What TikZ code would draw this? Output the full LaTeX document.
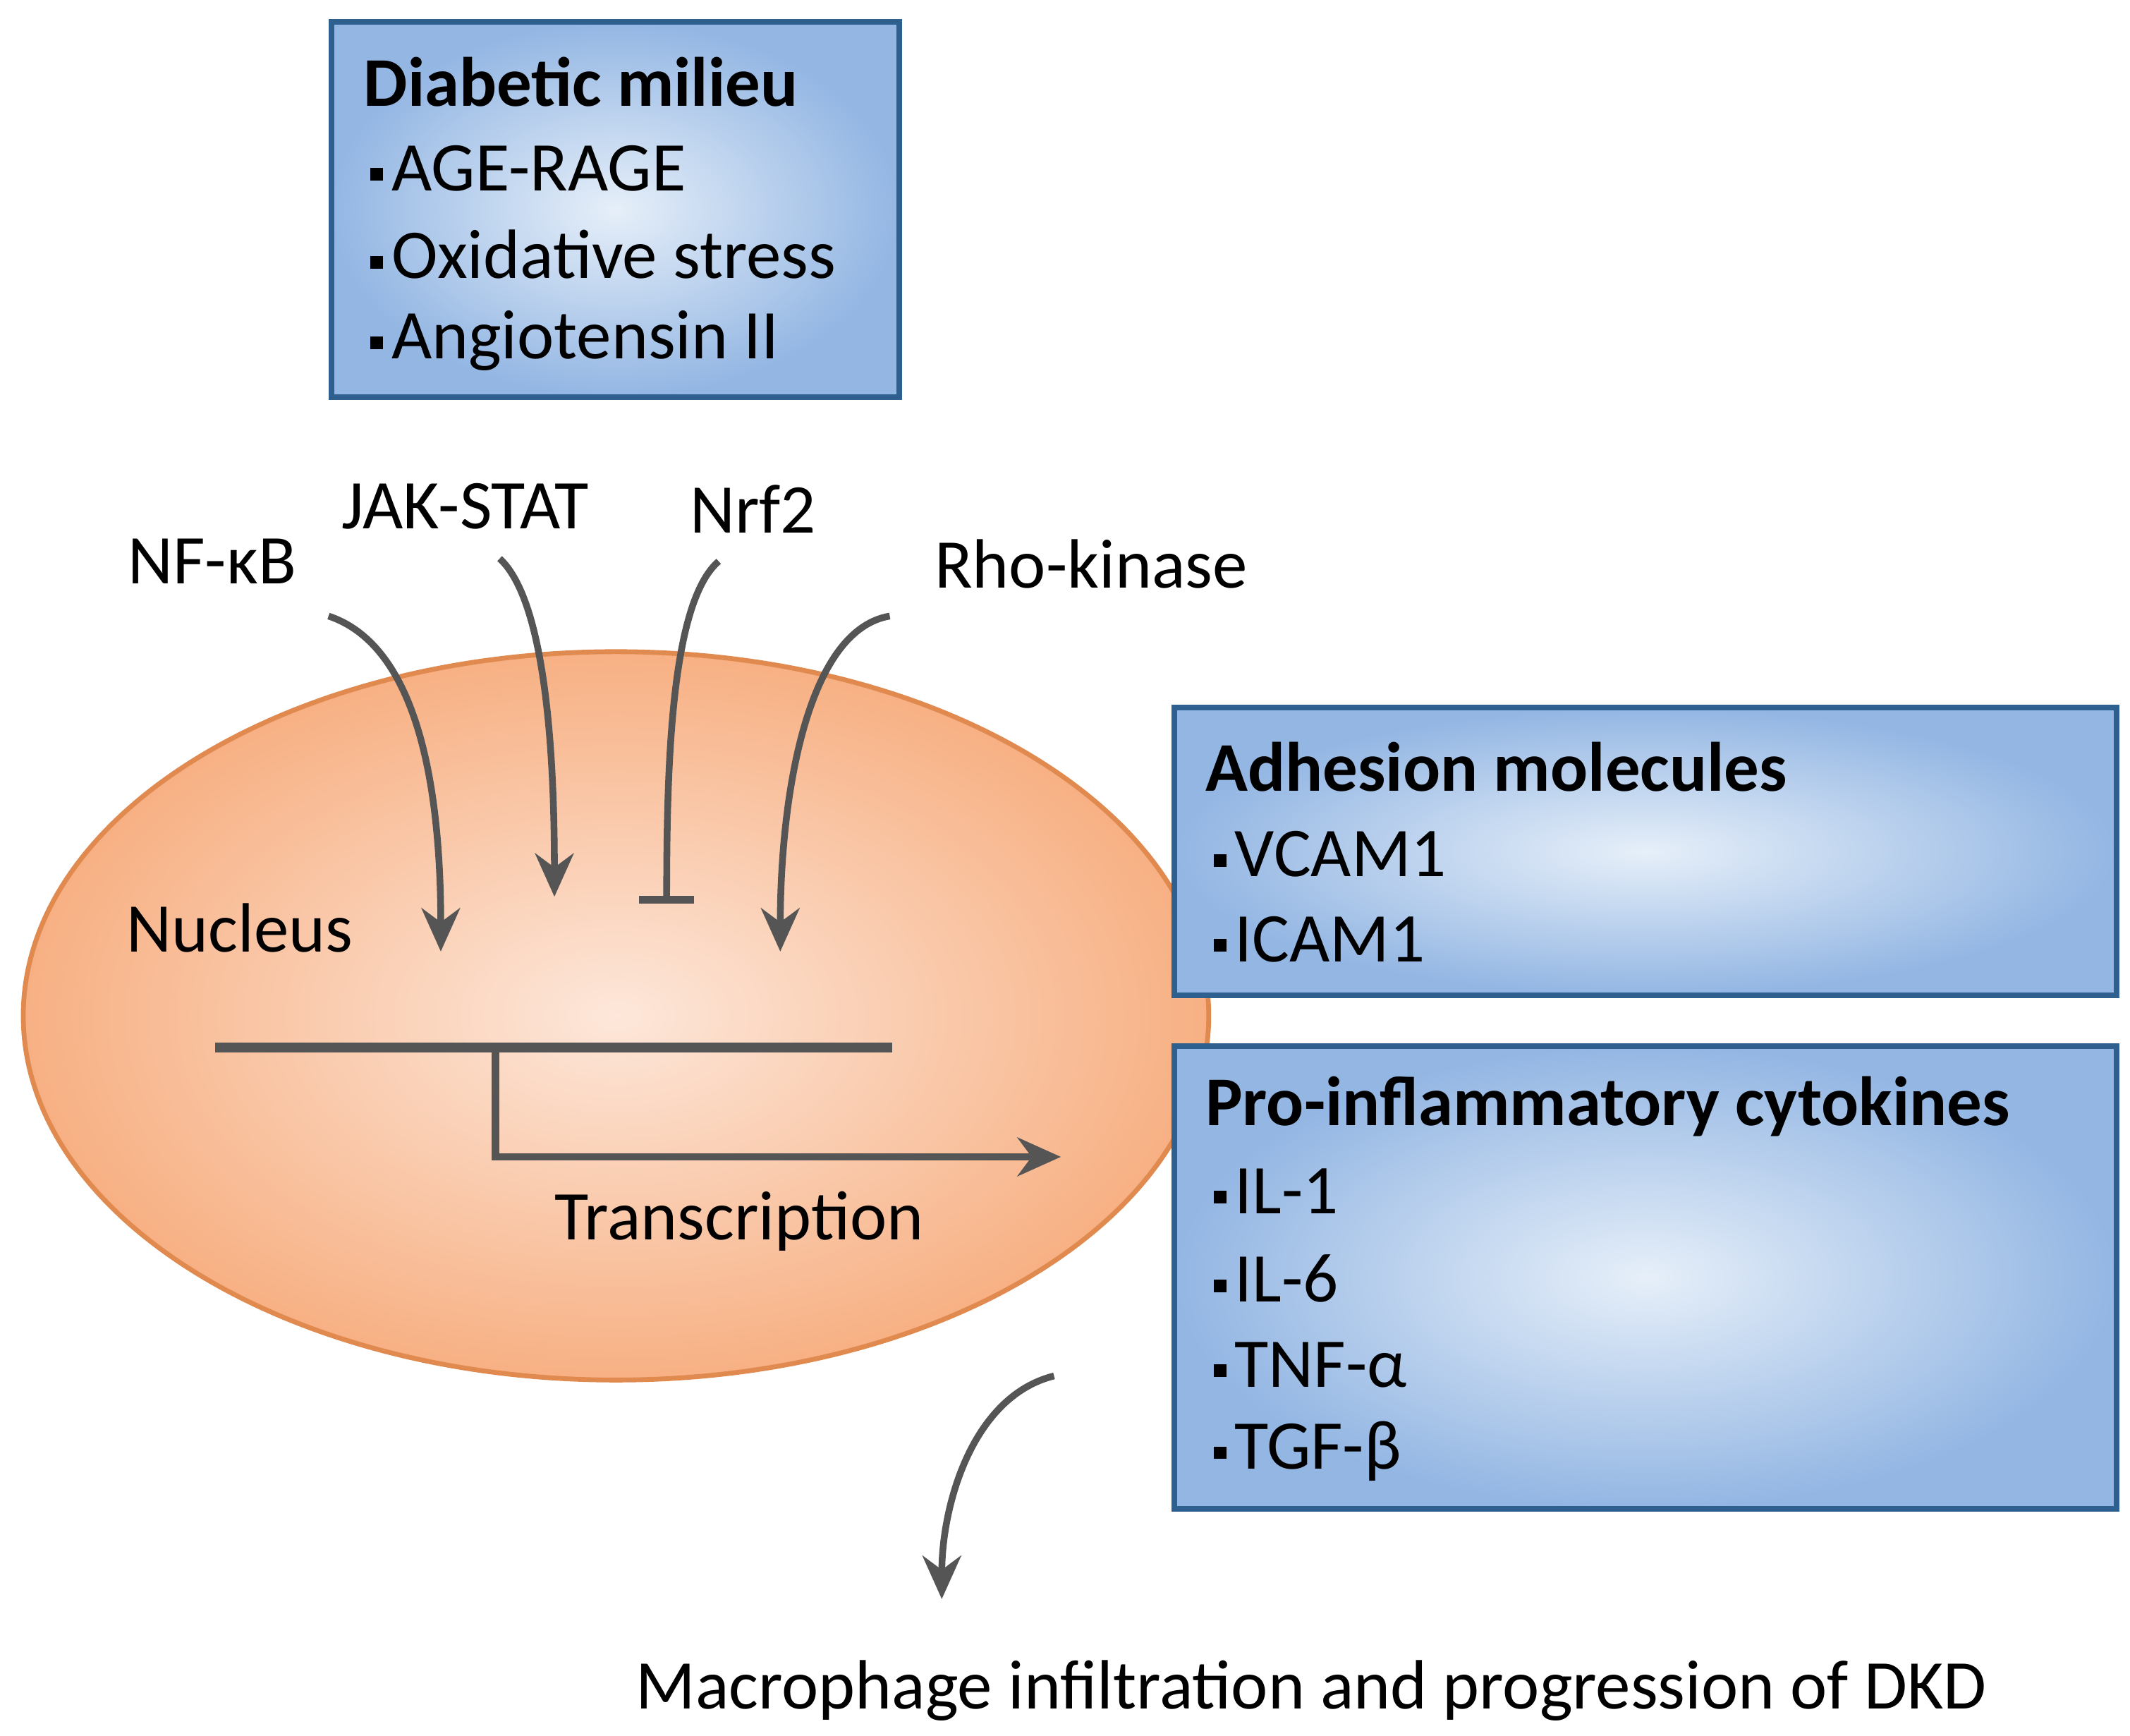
\documentclass[tikz,border=0pt]{standalone}
\usepackage{fontspec}
\setmainfont{Carlito}
\newcommand{\bul}{\raisebox{0.3ex}{\rule{0.18em}{0.18em}}\hspace{0.12em}}
\usetikzlibrary{arrows.meta}
\definecolor{bluebd}{HTML}{2D5F8F}
\definecolor{blueout}{HTML}{93B6E3}
\definecolor{bluein}{HTML}{E6EFF9}
\definecolor{orin}{HTML}{FDE7DA}
\definecolor{orout}{HTML}{F7B083}
\definecolor{orbd}{HTML}{E08A50}
\definecolor{ar}{HTML}{555555}
\begin{document}
\begin{tikzpicture}[x=0.01cm,y=-0.01cm,
  txt/.style={font=\fontsize{14.5}{17}\selectfont,inner sep=0pt},
  lbl/.style={txt,anchor=west},
  ttl/.style={txt,anchor=west,font=\fontsize{14.5}{17}\selectfont\bfseries},
  bx/.style={draw=bluebd,line width=1.2pt,inner color=bluein,outer color=blueout},
  arr/.style={draw=ar,line width=1.4pt,-{Stealth[length=9pt,width=8pt]}}]
\useasboundingbox (0,0) rectangle (1556,1268);
% boxes
\draw[bx] (242,16) rectangle (657,290);
\node[ttl] (dm) at (265,60) {Diabetic milieu};
\node[lbl] (d1) at (270,123) {\bul AGE-RAGE};
\node[lbl] (d2) at (270,186) {\bul Oxidative stress};
\node[lbl] (d3) at (270,249) {\bul Angiotensin II};
% nucleus
\draw[draw=orbd,line width=1pt,inner color=orin,outer color=orout] (450,742) ellipse [x radius=433,y radius=266];
\node[lbl] (nuc) at (92,678) {Nucleus};
\draw[bx] (858,517) rectangle (1546,727);
\node[ttl] (am) at (880,560) {Adhesion molecules};
\node[lbl] (a1) at (886,624) {\bul VCAM1};
\node[lbl] (a2) at (886,686) {\bul ICAM1};
\draw[bx] (858,764) rectangle (1546,1102);
\node[ttl] (pc) at (880,808) {Pro-inflammatory cytokines};
\node[lbl] (c1) at (886,870) {\bul IL-1};
\node[lbl] (c2) at (886,934) {\bul IL-6};
\node[lbl] (c3) at (886,997) {\bul TNF-α};
\node[lbl] (c4) at (886,1060) {\bul TGF-β};
% labels
\node[txt] (nf) at (155,410) {NF-κB};
\node[txt] (jak) at (340,370) {JAK-STAT};
\node[txt] (nrf) at (550,372) {Nrf2};
\node[txt] (rho) at (797,412) {Rho-kinase};
\coordinate (nfs) at (240,450); \coordinate (nfe) at (322,695);
\coordinate (js) at (365,408); \coordinate (je) at (405,655);
\coordinate (ns) at (525,410); \coordinate (ne) at (487,657);
\coordinate (rs) at (650,450); \coordinate (re) at (570,695);
\draw[arr] (nfs) .. controls (300,470) and (322,560) .. (nfe);
\draw[arr] (js) .. controls (400,440) and (405,560) .. (je);
\draw[draw=ar,line width=1.4pt] (ns) .. controls (490,440) and (487,560) .. (ne);
\coordinate (tb1) at (467,657); \coordinate (tb2) at (507,657);
\draw[draw=ar,line width=1.6pt] (tb1) -- (tb2);
\draw[arr] (rs) .. controls (590,460) and (570,580) .. (re);
% transcription
\coordinate (l1) at (157,765); \coordinate (l2) at (652,765);
\draw[draw=ar,line width=2pt] (l1) -- (l2);
\coordinate (t0) at (362,765); \coordinate (t1) at (362,845); \coordinate (t2) at (775,845);
\draw[draw=ar,line width=1.6pt,-{Stealth[length=9pt,width=8pt]}] (t0) -- (t1) -- (t2);
\node[txt] (tr) at (540,892) {Transcription};
% bottom
\coordinate (bs) at (770,1005); \coordinate (be) at (688,1168);
\draw[arr] (bs) .. controls (710,1020) and (688,1100) .. (be);
\node[txt] (mac) at (958,1235) {Macrophage infiltration and progression of DKD};
\end{tikzpicture}
\end{document}
